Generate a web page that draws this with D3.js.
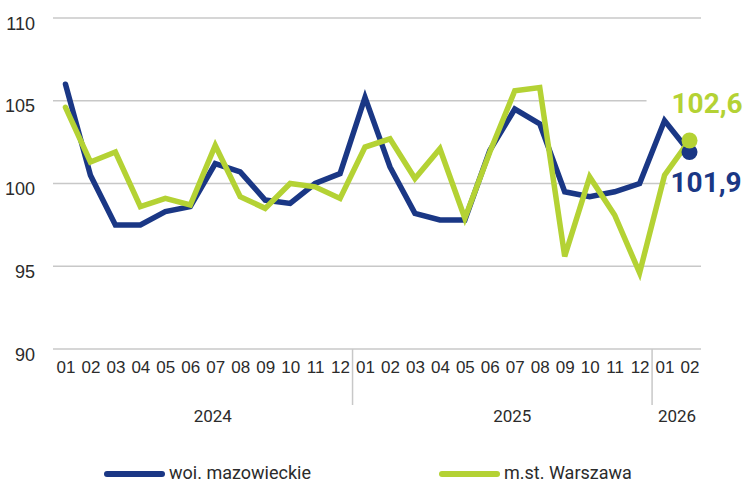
<!DOCTYPE html>
<html>
<head>
<meta charset="utf-8">
<script src="https://cdn.jsdelivr.net/npm/d3@7"></script>
<style>
  html, body { margin: 0; padding: 0; background: #fff; }
  svg { display: block; font-family: Roboto, "Noto Sans", sans-serif; }
</style>
</head>
<body>
<script>
// months 01/2024 .. 02/2026
const months = ["01","02","03","04","05","06","07","08","09","10","11","12",
                "01","02","03","04","05","06","07","08","09","10","11","12",
                "01","02"];
const years = [
    { label: "2024", start: 0, end: 11 },
    { label: "2025", start: 12, end: 23 },
    { label: "2026", start: 24, end: 25 }
];
const mazowieckie = [106.0, 100.5, 97.5, 97.5, 98.3, 98.6, 101.2, 100.7, 99.0, 98.8, 100.0, 100.6,
                     105.2, 101.0, 98.2, 97.8, 97.8, 102.0, 104.5, 103.6, 99.5, 99.2, 99.5, 100.0,
                     103.8, 101.9];
const warszawa = [104.6, 101.3, 101.9, 98.6, 99.1, 98.7, 102.3, 99.2, 98.5, 100.0, 99.8, 99.1,
                  102.2, 102.7, 100.3, 102.1, 97.9, 101.9, 105.6, 105.8, 95.6, 100.4, 98.1, 94.6,
                  100.5, 102.6];
const yTicks = [90, 95, 100, 105, 110];
const seriesNames = ["woi. mazowieckie", "m.st. Warszawa"];

const BLUE = "#1a3785";
const GREEN = "#b4d234";
const GRID = "#c8c8c8";
const TEXT = "#2b2b2b";

const W = 745, H = 485;
const svg = d3.select("body").append("svg")
    .attr("width", W)
    .attr("height", H);

const idx = d3.range(months.length);
const x = d3.scalePoint()
    .domain(idx)
    .range([53, 702])
    .padding(0.5);
const step = x.step();
const y = d3.scaleLinear()
    .domain([90, 110])
    .range([349, 18]);

// gridlines
svg.append("g")
    .selectAll("line")
    .data(yTicks)
    .join("line")
    .attr("x1", 53)
    .attr("x2", 701)
    .attr("y1", d => y(d))
    .attr("y2", d => y(d))
    .attr("stroke", GRID)
    .attr("stroke-width", 1.5);

// year separators
svg.append("g")
    .selectAll("line")
    .data(years.slice(1))
    .join("line")
    .attr("x1", d => x(d.start) - step / 2)
    .attr("x2", d => x(d.start) - step / 2)
    .attr("y1", y(90))
    .attr("y2", y(90) + 56)
    .attr("stroke", GRID)
    .attr("stroke-width", 1.5);

// y axis labels
const yAxis = svg.append("g")
    .attr("transform", "translate(53,0)")
    .call(d3.axisLeft(y).tickValues(yTicks).tickSize(0).tickPadding(18));
yAxis.select(".domain").remove();
yAxis.selectAll("text")
    .attr("dy", 11)
    .attr("fill", TEXT)
    .style("font-size", "18px");

// month labels
const xAxis = svg.append("g")
    .attr("transform", `translate(0,${y(90)})`)
    .call(d3.axisBottom(x).tickFormat(i => months[i]).tickSize(0).tickPadding(0));
xAxis.select(".domain").remove();
xAxis.selectAll("text")
    .attr("y", 24)
    .attr("dy", 0)
    .attr("fill", TEXT)
    .style("font-size", "17px");

// year labels
svg.append("g")
    .selectAll("text")
    .data(years)
    .join("text")
    .attr("x", d => (x(d.start) + x(d.end)) / 2 + (d.end - d.start > 6 ? 10 : 0))
    .attr("y", y(90) + 73)
    .attr("text-anchor", "middle")
    .attr("fill", TEXT)
    .style("font-size", "17px")
    .text(d => d.label);

const last = months.length - 1;

// white boxes behind end labels
svg.append("rect")
    .attr("x", x(last) - 43)
    .attr("y", y(warszawa[last]) - 52)
    .attr("width", 100)
    .attr("height", 32)
    .attr("fill", "#fff");
svg.append("rect")
    .attr("x", x(last) - 22)
    .attr("y", y(mazowieckie[last]) + 16)
    .attr("width", 80)
    .attr("height", 30)
    .attr("fill", "#fff");

// lines
const line = d3.line()
    .x((d, i) => x(i))
    .y(d => y(d));

const series = [
    { name: seriesNames[0], values: mazowieckie, color: BLUE },
    { name: seriesNames[1], values: warszawa, color: GREEN }
];

svg.append("g")
    .selectAll("path")
    .data(series)
    .join("path")
    .attr("d", d => line(d.values))
    .attr("fill", "none")
    .attr("stroke", d => d.color)
    .attr("stroke-width", 5.5)
    .attr("stroke-linejoin", "miter")
    .attr("stroke-linecap", "round");

// end dots
svg.append("g")
    .selectAll("circle")
    .data(series)
    .join("circle")
    .attr("cx", x(last))
    .attr("cy", d => y(d.values[last]))
    .attr("r", 8)
    .attr("fill", d => d.color);

// end labels
const fmt = v => d3.format(".1f")(v).replace(".", ",");
svg.append("text")
    .attr("x", x(last) - 18)
    .attr("y", y(warszawa[last]) - 27)
    .attr("fill", GREEN)
    .style("font-size", "28px")
    .style("font-weight", "bold")
    .text(fmt(warszawa[last]));
svg.append("text")
    .attr("x", x(last) - 19)
    .attr("y", y(mazowieckie[last]) + 40)
    .attr("fill", BLUE)
    .style("font-size", "28px")
    .style("font-weight", "bold")
    .text(fmt(mazowieckie[last]));

// legend
const legendX = [107, 442];
const legend = svg.append("g")
    .selectAll("g")
    .data(series)
    .join("g")
    .attr("transform", (d, i) => `translate(${legendX[i]},474)`);
legend.append("line")
    .attr("x1", 0)
    .attr("x2", 55)
    .attr("stroke", d => d.color)
    .attr("stroke-width", 6)
    .attr("stroke-linecap", "round");
legend.append("text")
    .attr("x", 62)
    .attr("y", 5)
    .attr("fill", TEXT)
    .style("font-size", "18px")
    .text(d => d.name);
</script>
</body>
</html>
